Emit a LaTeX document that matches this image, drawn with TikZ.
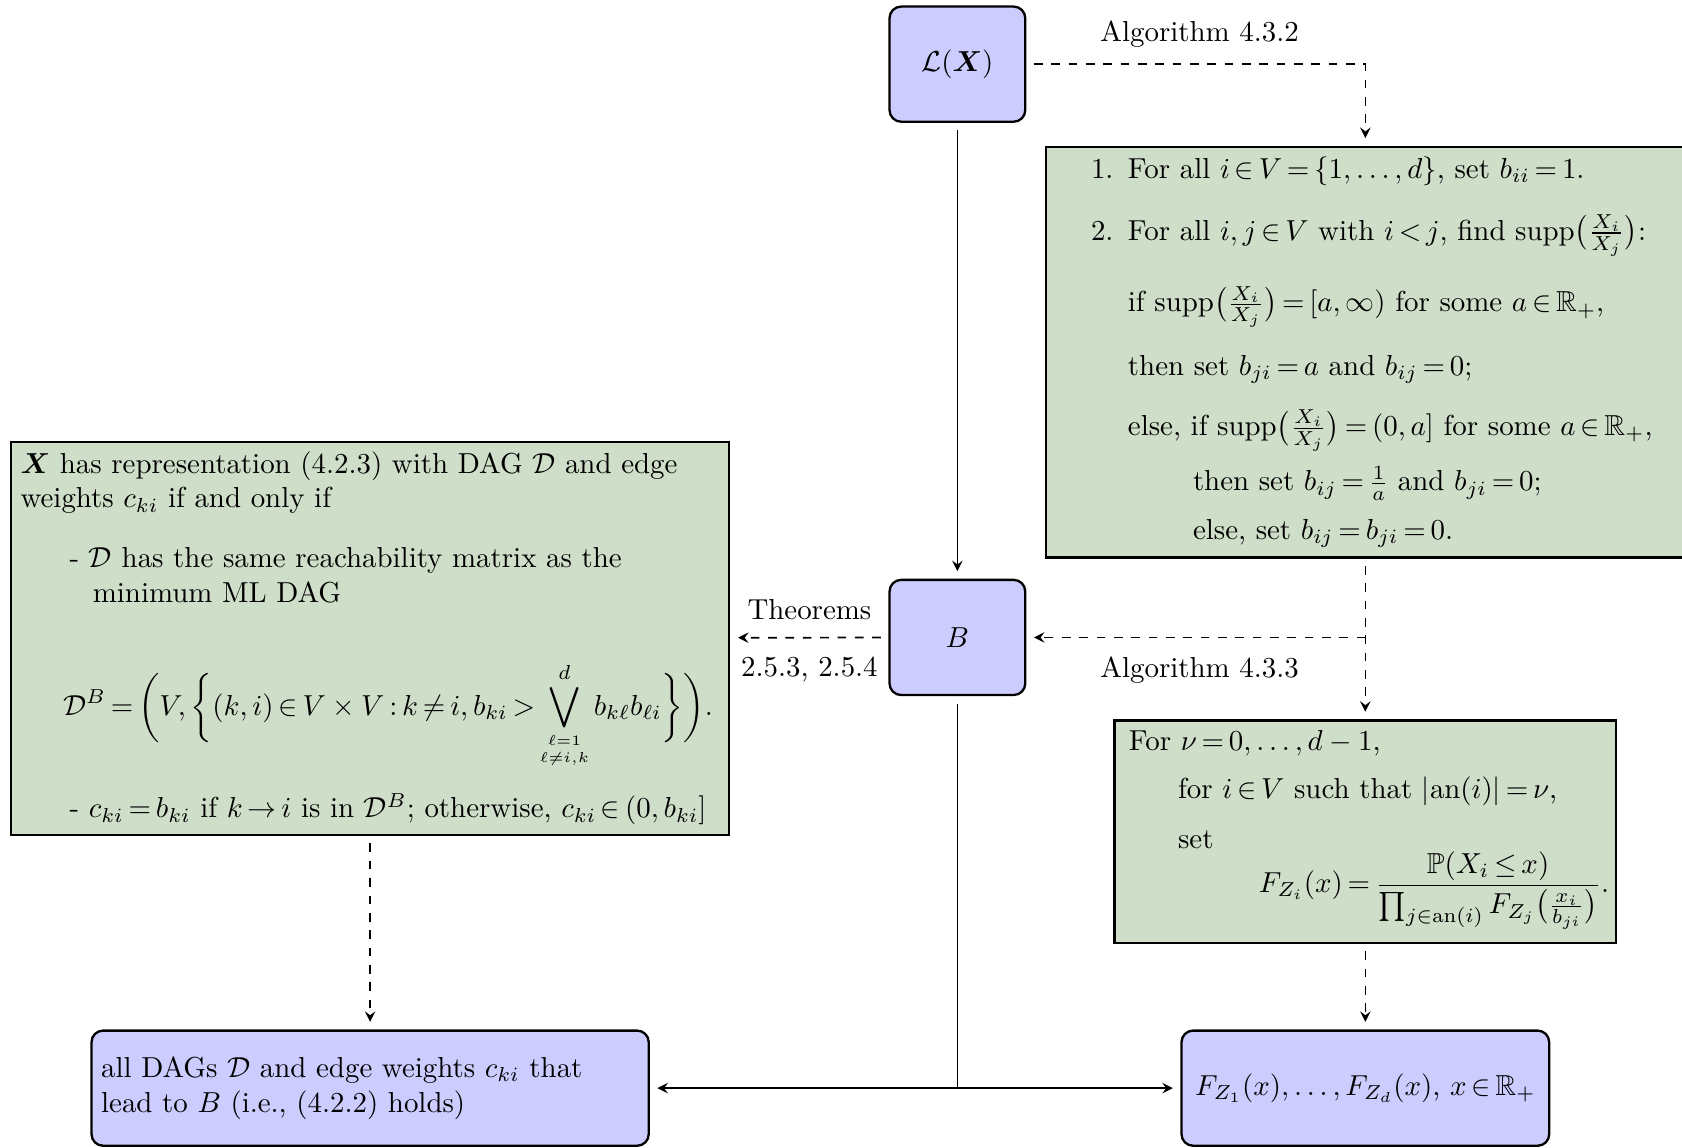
\documentclass[tikz,border=0pt]{standalone}
\usepackage{amsmath,amssymb}
\usepackage{tikz}
\usetikzlibrary{positioning}

\DeclareMathOperator{\supp}{supp}
\definecolor{boxblue}{RGB}{204,204,255}
\definecolor{boxgreen}{RGB}{207,222,201}
\tikzset{
  bluebox/.style={draw, thick, rounded corners, fill=boxblue, outer sep=3pt},
  greenbox/.style={draw, thick, fill=boxgreen, align=left, outer sep=3pt},
}
\newcommand{\algnum}[1]{\makebox[25pt][r]{#1\hspace{5pt}}}
\thickmuskip=3mu plus 1mu

\begin{document}
\begin{tikzpicture}[semithick]
\useasboundingbox (0, 0) rectangle (20.45, -13.95);
% middle column
\node [bluebox, minimum width=1.65cm, minimum height=1.4cm] (law) at (11.64, -0.78) {$\mathcal{L}(\boldsymbol{X})$};
\node [bluebox, minimum width=1.65cm, minimum height=1.4cm] (B) at (11.64, -7.75) {$B$};
% right column
\node [greenbox, text width=7.53cm] (algA) at (16.60, -4.28) {
\algnum{1.}For all $i\in V=\{1,\dots,d\}$, set $b_{ii}=1$.\\[9.5pt]
\algnum{2.}For all $i,j\in V$ with $i<j$, find $\supp\bigl(\frac{X_i}{X_j}\bigr)$:\\[9.5pt]
\hspace*{25pt}if $\supp\bigl(\frac{X_i}{X_j}\bigr)=[a,\infty)$ for some $a\in\mathbb{R}_+$,\\[8.6pt]
\hspace*{25pt}then set $b_{ji}=a$ and $b_{ij}=0$;\\[8.8pt]
\hspace*{25pt}else, if $\supp\bigl(\frac{X_i}{X_j}\bigr)=(0,a]$ for some $a\in\mathbb{R}_+$,\\[4.3pt]
\hspace*{47.5pt}then set $b_{ij}=\frac{1}{a}$ and $b_{ji}=0$;\\[4.8pt]
\hspace*{47.5pt}else, set $b_{ij}=b_{ji}=0$.};
\node [greenbox, text width=5.75cm, inner xsep=5pt] (algB) at (16.60, -10.11) {
For $\nu=0,\dots,d-1$,\\[4.6pt]
\hspace*{17pt}for $i\in V$ such that $|\mathrm{an}(i)|=\nu$,\\[5.3pt]
\hspace*{17pt}set\\
\hspace*{45pt}\mbox{$\displaystyle F_{Z_i}(x)=\frac{\mathbb{P}(X_i\le x)}{\prod_{j\in\mathrm{an}(i)}F_{Z_j}\bigl(\frac{x_i}{b_{ji}}\bigr)}.$}\rule[-14pt]{0pt}{1pt}};
\node [bluebox, minimum width=4.47cm, minimum height=1.4cm] (F) at (16.60, -13.23) {$F_{Z_1}(x),\dots,F_{Z_d}(x)$, $x\in\mathbb{R}_+$};
% left column
\node [greenbox, text width=8.5cm] (repr) at (4.50, -7.76) {
$\boldsymbol{X}$ has representation (4.2.3) with DAG $\mathcal{D}$ and edge\\
weights $c_{ki}$ if and only if\\[8.8pt]
\hspace*{17pt}- $\mathcal{D}$ has the same reachability matrix as the\\
\hspace*{25pt}minimum ML DAG\\[19.4pt]
\hspace*{14.7pt}\mbox{$\displaystyle \mathcal{D}^B=\biggl(V,\biggl\{(k,i)\in V\times V:k\neq i,b_{ki}>\bigvee_{\substack{\scriptscriptstyle\ell=1\\ \scriptscriptstyle\ell\neq i,k}}^{d}b_{k\ell}b_{\ell i}\biggr\}\biggr).$}\\[7.8pt]
\hspace*{17pt}- \mbox{$c_{ki}=b_{ki}$ if $k\to i$ is in $\mathcal{D}^B$; otherwise, $c_{ki}\in(0,b_{ki}]$}};
\node [bluebox, text width=6.54cm, minimum height=1.4cm, align=left] (dags) at (4.50, -13.23) {all DAGs $\mathcal{D}$ and edge weights $c_{ki}$ that\\ lead to $B$ (i.e., (4.2.2) holds)};
% connectors
\coordinate (split) at (algA.south |- B);
\draw [-stealth] (law) -- (B);
\draw [dashed, -stealth] (law) -| (algA) node [pos=0.25, above=2pt] {Algorithm 4.3.2};
\draw [dashed, -stealth] (algA) -- (algB);
\draw [dashed, -stealth] (split) -- (B) node [midway, below=3pt] {Algorithm 4.3.3};
\draw [dashed, -stealth] (B) -- (repr) node [midway, above=2.5pt] {Theorems} node [midway, below=3pt] {2.5.3, 2.5.4};
\draw [dashed, -stealth] (repr) -- (dags);
\draw [dashed, -stealth] (algB) -- (F);
\draw [-stealth] (B) |- (dags);
\draw [-stealth] (B) |- (F);
\end{tikzpicture}
\end{document}
